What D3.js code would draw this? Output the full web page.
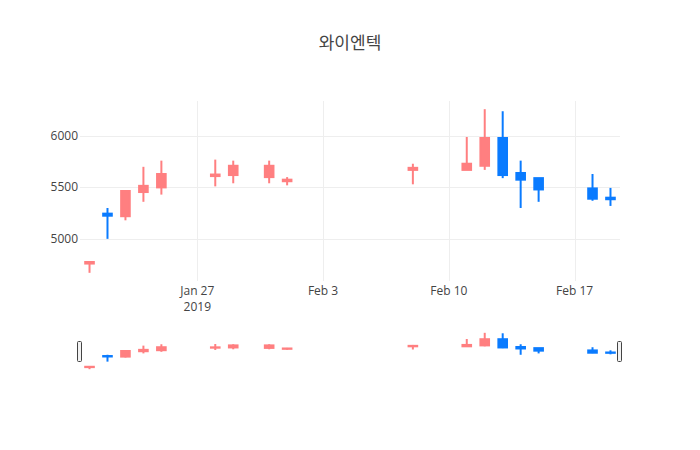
<!DOCTYPE html>
<html>
<head>
<meta charset="utf-8">
<script src="https://cdn.jsdelivr.net/npm/d3@7"></script>
<style>
  body { margin: 0; background: #fff; }
  svg text { font-family: "Open Sans", "Noto Sans CJK KR", sans-serif; fill: #444; }
</style>
</head>
<body>
<svg id="vis" width="700" height="450"></svg>
<script>
// daily prices (KRW)
const dates = ["2019-01-21", "2019-01-22", "2019-01-23", "2019-01-24", "2019-01-25",
  "2019-01-28", "2019-01-29", "2019-01-31", "2019-02-01", "2019-02-08",
  "2019-02-11", "2019-02-12", "2019-02-13", "2019-02-14", "2019-02-15",
  "2019-02-18", "2019-02-19"]
const opens  = [4760, 5245, 5220, 5455, 5500, 5610, 5620, 5600, 5560, 5670, 5670, 5710, 5980, 5640, 5590, 5490, 5400]
const highs  = [4775, 5300, 5465, 5700, 5760, 5770, 5760, 5760, 5600, 5730, 5990, 6260, 6240, 5760, 5590, 5630, 5495]
const lows   = [4670, 5000, 5180, 5360, 5430, 5510, 5540, 5540, 5520, 5530, 5670, 5670, 5590, 5300, 5360, 5370, 5320]
const closes = [4775, 5225, 5465, 5515, 5630, 5625, 5710, 5710, 5575, 5690, 5730, 5980, 5620, 5575, 5480, 5390, 5385]

const yTicks = [5000, 5500, 6000]
const xTicks = ["2019-01-27", "2019-02-03", "2019-02-10", "2019-02-17"]

const title = "와이엔텍"
const upColor = "#ff7f80"
const downColor = "#0a7bff"

const parse = d3.utcParse("%Y-%m-%d")
const data = dates.map((d, i) => ({
  date: parse(d), open: opens[i], high: highs[i], low: lows[i], close: closes[i]
}))

const vis = d3.select("#vis")
const plot = { left: 80, right: 620, top: 101, bottom: 281 }
const slider = { top: 331, bottom: 371 }
const day = 24 * 3600 * 1000

// x scale: pad half a day or so on each side
const xScale = d3.scaleUtc()
  .domain([new Date(+data[0].date - 0.53 * day), new Date(+data[data.length - 1].date + 0.53 * day)])
  .range([plot.left, plot.right])

const lo = d3.min(lows), hi = d3.max(highs)
const pad = (hi - lo) * 0.05
const yScale = d3.scaleLinear().domain([lo - pad, hi + pad]).range([plot.bottom, plot.top])
const ySlider = d3.scaleLinear().domain([lo - pad, hi + pad]).range([slider.bottom, slider.top])

const bodyW = (xScale(parse("2019-01-22")) - xScale(parse("2019-01-21"))) * 0.48

// title
vis.append("text")
  .attr("x", 350).attr("y", 49)
  .attr("text-anchor", "middle")
  .style("font-size", "17px")
  .text(title)

// grid
vis.append("g").selectAll("line")
  .data(yTicks).enter().append("line")
  .attr("x1", plot.left).attr("x2", plot.right)
  .attr("y1", d => Math.round(yScale(d)) + 0.5).attr("y2", d => Math.round(yScale(d)) + 0.5)
  .attr("stroke", "#eee")

vis.append("g").selectAll("line")
  .data(xTicks.map(parse)).enter().append("line")
  .attr("y1", plot.top).attr("y2", plot.bottom)
  .attr("x1", d => Math.round(xScale(d)) + 0.5).attr("x2", d => Math.round(xScale(d)) + 0.5)
  .attr("stroke", "#eee")

// y labels
vis.append("g").selectAll("text")
  .data(yTicks).enter().append("text")
  .attr("x", plot.left - 2).attr("y", d => yScale(d) + 4)
  .attr("text-anchor", "end")
  .style("font-size", "12px")
  .text(d => d)

// x labels
const fmt = d3.utcFormat("%b %-d")
const xl = vis.append("g").selectAll("text")
  .data(xTicks.map(parse)).enter().append("text")
  .attr("x", d => xScale(d)).attr("y", plot.bottom + 14)
  .attr("text-anchor", "middle")
  .style("font-size", "12px")
xl.append("tspan").text(d => fmt(d))
xl.filter((d, i) => i === 0).append("tspan")
  .attr("x", d => xScale(d)).attr("dy", 16).text(d => d.getUTCFullYear())

// candles
function drawCandles(g, y) {
  const c = g.selectAll("g").data(data).enter().append("g")
    .attr("stroke", d => d.close >= d.open ? upColor : downColor)
    .attr("fill", d => d.close >= d.open ? upColor : downColor)
  c.append("line")
    .attr("x1", d => xScale(d.date)).attr("x2", d => xScale(d.date))
    .attr("y1", d => y(d.high)).attr("y2", d => y(d.low))
    .attr("stroke-width", 2)
  c.append("rect")
    .attr("x", d => xScale(d.date) - bodyW / 2)
    .attr("width", bodyW)
    .attr("y", d => y(Math.max(d.open, d.close)))
    .attr("height", d => Math.abs(y(d.open) - y(d.close)))
    .attr("stroke-width", 2)
}

drawCandles(vis.append("g"), yScale)
drawCandles(vis.append("g"), ySlider)

// range slider handles
const hh = (slider.bottom - slider.top) / 2
vis.append("g").selectAll("rect")
  .data([plot.left, plot.right]).enter().append("rect")
  .attr("x", d => d - 2.5).attr("y", slider.top + hh / 2 + 0.5)
  .attr("width", 4).attr("height", hh)
  .attr("rx", 1)
  .attr("fill", "#f2f2f2").attr("stroke", "#444").attr("stroke-width", 1)
</script>
</body>
</html>
